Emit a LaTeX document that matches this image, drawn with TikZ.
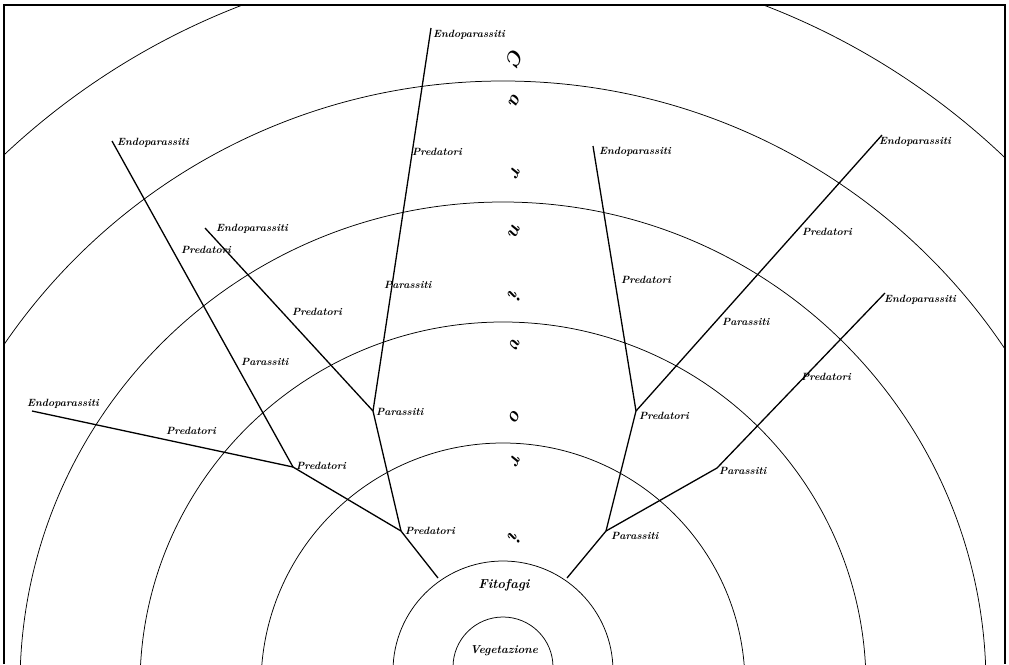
\documentclass[tikz,border=0pt]{standalone}
\usepackage{tikz}
\usetikzlibrary{positioning}

\tikzset{
  ring/.style={line width=0.75pt},
  branch/.style={line width=1.3pt},
  lab/.style={font=\bfseries\itshape\fontsize{10.5}{12}\selectfont, inner sep=1pt, anchor=west},
  letter/.style={font=\bfseries\itshape\fontsize{20}{20}\selectfont, rotate=-115, inner sep=0pt},
}

\begin{document}
\begin{tikzpicture}[x=1pt,y=-1pt]
    \useasboundingbox (0,0) rectangle (1009,664);
    \draw[line width=1.4pt] (4,664) -- (4,5);
    \draw[line width=1.4pt] (1005,5) -- (1005,664);
    \draw[line width=2.2pt] (3,5) -- (1006,5);

    % rings
    \begin{scope}
        \clip (4,5) rectangle (1005,664);
        \foreach \r in {242,363,483,604,728}
            \draw[ring] (503,685) circle[radius=\r pt];
        \draw[ring] (503,671) circle[radius=110pt];
        \draw[ring] (503,667) circle[radius=50pt];
    \end{scope}
    \node[lab, anchor=center, font=\bfseries\itshape\fontsize{13}{14}\selectfont] (fito) at (504,585) {Fitofagi};
    \node[lab, anchor=center, font=\bfseries\itshape\fontsize{11.5}{13}\selectfont] (veg) at (504,651) {Vegetazione};

    % junctions
    \coordinate (fL) at (438,578);
    \coordinate (pL1) at (401,531);
    \coordinate (pL2) at (293,467);
    \coordinate (sL) at (373,411);
    \coordinate (eA) at (32,411);
    \coordinate (eB) at (112,141);
    \coordinate (eC) at (205,228);
    \coordinate (eTop) at (431,28);
    \coordinate (fR) at (567,578);
    \coordinate (sR) at (606,531);
    \coordinate (pR) at (636,411);
    \coordinate (sR2) at (717,468);
    \coordinate (eD) at (593,146);
    \coordinate (eE) at (882,135);
    \coordinate (eF) at (885,293);

    \draw[branch] (fL) -- (pL1) -- (pL2) -- (eA);
    \draw[branch] (pL2) -- (eB);
    \draw[branch] (pL1) -- (sL) -- (eTop);
    \draw[branch] (sL) -- (eC);
    \draw[branch] (fR) -- (sR) -- (pR) -- (eD);
    \draw[branch] (pR) -- (eE);
    \draw[branch] (sR) -- (sR2) -- (eF);

    % labels left
    \node[lab] (lpL1) at (404,531) {Predatori};
    \node[lab] (lpL2) at (295,466) {Predatori};
    \node[lab] (lsL) at (375,412) {Parassiti};
    \node[lab] (leA) at (26,404) {Endoparassiti};
    \node[lab] (lpA) at (165,431) {Predatori};
    \node[lab] (leB) at (116,143) {Endoparassiti};
    \node[lab] (lpB) at (180,250) {Predatori};
    \node[lab] (lsB) at (240,362) {Parassiti};
    \node[lab] (leC) at (215,229) {Endoparassiti};
    \node[lab] (lpC) at (291,312) {Predatori};
    \node[lab] (leT) at (432,35) {Endoparassiti};
    \node[lab] (lpT) at (411,152) {Predatori};
    \node[lab] (lsT) at (383,285) {Parassiti};

    % labels right
    \node[lab] (leD) at (598,152) {Endoparassiti};
    \node[lab] (lpD) at (620,280) {Predatori};
    \node[lab] (lpR) at (638,416) {Predatori};
    \node[lab] (lsR) at (610,536) {Parassiti};
    \node[lab] (lsR2) at (718,471) {Parassiti};
    \node[lab] (lpE) at (801,232) {Predatori};
    \node[lab] (lsE) at (721,322) {Parassiti};
    \node[lab] (leE) at (878,142) {Endoparassiti};
    \node[lab] (lpF) at (800,377) {Predatori};
    \node[lab] (leF) at (883,300) {Endoparassiti};

    % vertical word
    \foreach \ch/\yy in {C/57,a/100,r/172,n/230,i/295,v/343,o/416,r/460,i/537}
        \node[letter] (w\yy) at (515,\yy) {\ch};
\end{tikzpicture}
\end{document}
